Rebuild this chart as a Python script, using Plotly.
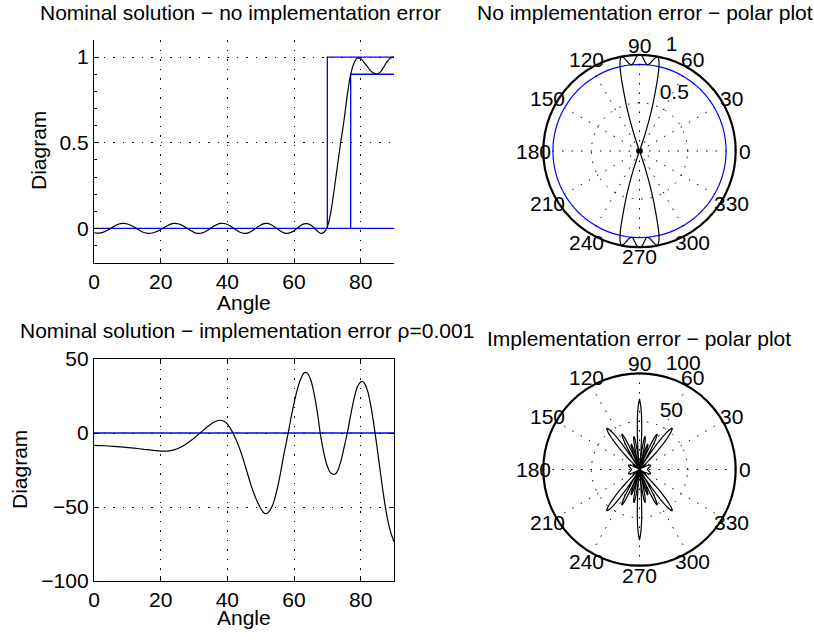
import math
import plotly.graph_objects as go

# ---------------- data ----------------
# nominal diagram (no implementation error), angle in degrees
ANGLE_NOM = list(range(0, 91))
DIAG_NOM = [
    -0.025, -0.027, -0.026, -0.020, -0.011, 0.000, 0.012, 0.022, 0.028, 0.029,
    0.026, 0.019, 0.009, -0.003, -0.015, -0.024, -0.029, -0.028, -0.024, -0.016,
    -0.006, 0.005, 0.016, 0.025, 0.029, 0.028, 0.022, 0.012, 0.000, -0.012,
    -0.023, -0.029, -0.028, -0.022, -0.012, 0.001, 0.014, 0.024, 0.029, 0.029,
    0.023, 0.013, 0.000, -0.013, -0.024, -0.029, -0.027, -0.019, -0.007, 0.007,
    0.020, 0.028, 0.029, 0.023, 0.012, -0.002, -0.016, -0.026, -0.029, -0.024,
    -0.013, 0.002, 0.017, 0.027, 0.028, 0.020, 0.004, -0.015, -0.028, -0.022,
    0.010, 0.090, 0.220, 0.360, 0.500, 0.630, 0.780, 0.900, 0.965, 0.995,
    0.990, 0.970, 0.945, 0.920, 0.905, 0.902, 0.915, 0.945, 0.975, 0.995,
    1.000,
]

# bound lines of the design problem
UPPER_X = [70, 70, 90]
UPPER_Y = [0, 1, 1]
LOWER_X = [77, 77, 90]
LOWER_Y = [0, 0.9, 0.9]
ZERO_X = [0, 90]
ZERO_Y = [0, 0]
RING_LEVEL = 0.9

# nominal solution with implementation error (rho = 0.001)
ANGLE_ERR = [0, 3, 6, 9, 12, 15, 18, 20, 22, 24, 26, 28, 30, 32, 34, 36, 37.8,
             39.5, 41, 42, 43, 44, 45, 46, 47, 48, 49, 50, 51, 51.5, 52, 53, 54,
             55, 56, 57, 58, 59, 60, 61, 62, 63, 63.5, 64, 65, 66, 67, 68, 69,
             70, 71, 72.3, 73, 74, 75, 76, 77, 78, 79, 80, 80.5, 81, 82, 83, 84,
             85, 86, 87, 88, 89, 90]
DIAG_ERR = [-8.4, -8.6, -9.0, -9.5, -10.2, -11.0, -11.8, -12.2, -12.2, -11.4,
            -9.6, -6.8, -3.5, 0.3, 4.2, 7.4, 8.6, 7.2, 2.8, -1.5, -6.5, -12.5,
            -19.5, -27, -34.5, -41, -46.5, -51, -54, -54.5, -54.2, -51.5, -46,
            -37.5, -26.5, -14, -3, 9, 20, 29.5, 36.5, 40.5, 41, 40.5, 36, 27, 14,
            -2, -14, -22.5, -27, -27.8, -26, -19.5, -10, 0, 12, 23, 31, 34.5,
            34.8, 34, 29, 19, 5, -11, -28, -44, -57.5, -67, -73.5]

POLAR_ANGLE_TICKS = [0, 30, 60, 90, 120, 150, 180, 210, 240, 270, 300, 330]
NOM_RMAX = 1
NOM_RTICKS = [0.5, 1]
ERR_RMAX = 100
ERR_RTICKS = [50, 100]

TITLES = [
    "Nominal solution \u2212 no implementation error",
    "No implementation error \u2212 polar plot",
    "Nominal solution \u2212 implementation error \u03c1=0.001",
    "Implementation error \u2212 polar plot",
]

# ---------------- styling / layout ----------------
FONT = "Liberation Sans, Arial, Helvetica, sans-serif"
FS = 21
W, H = 814, 640
BLACK = "#000000"
BLUE = "#0000ff"
DOT = "1.5px,8px"

# pixel boxes
CART_X = (94, 394)
TOP_Y = (40, 262.7)
BOT_Y = (359, 581)
POLAR_CX, POLAR_R = 639.5, 96.2
POLAR_TOP_CY, POLAR_BOT_CY = 151, 469.5


def px(xp):
    return xp / W


def py(yp):
    return 1 - yp / H


def mirrored(ang, val):
    """Full-circle polar view of a diagram symmetric about 90 deg;
    negative values are drawn on the opposite side (as MATLAB polar does)."""
    th = list(ang) + [180 - a for a in reversed(ang)] + [180 + a for a in ang] + [360 - a for a in reversed(ang)]
    v = list(val) + list(reversed(val)) + list(val) + list(reversed(val))
    r = [abs(x) for x in v]
    th = [t + (180 if x < 0 else 0) for t, x in zip(th, v)]
    return th, r


fig = go.Figure()

# ---- top-left cartesian ----
for xs, ys in ((ZERO_X, ZERO_Y), (UPPER_X, UPPER_Y), (LOWER_X, LOWER_Y)):
    fig.add_trace(go.Scatter(x=xs, y=ys, mode="lines", line=dict(color=BLUE, width=1.3),
                             xaxis="x", yaxis="y"))
fig.add_trace(go.Scatter(x=ANGLE_NOM, y=DIAG_NOM, mode="lines",
                         line=dict(color=BLACK, width=1.2, shape="spline"),
                         xaxis="x", yaxis="y"))

# ---- bottom-left cartesian ----
fig.add_trace(go.Scatter(x=ZERO_X, y=ZERO_Y, mode="lines", line=dict(color=BLUE, width=1.3),
                         xaxis="x2", yaxis="y2"))
fig.add_trace(go.Scatter(x=ANGLE_ERR, y=DIAG_ERR, mode="lines",
                         line=dict(color=BLACK, width=1.2, shape="spline"),
                         xaxis="x2", yaxis="y2"))

# ---- top-right polar ----
ring_theta = list(range(0, 361, 3))
fig.add_trace(go.Scatterpolar(theta=ring_theta, r=[RING_LEVEL] * len(ring_theta), mode="lines",
                              line=dict(color=BLUE, width=1.2), subplot="polar"))
th1, r1 = mirrored(ANGLE_NOM, DIAG_NOM)
fig.add_trace(go.Scatterpolar(theta=th1, r=r1, mode="lines",
                              line=dict(color=BLACK, width=1.2, shape="spline"), subplot="polar"))

# ---- bottom-right polar ----
th2, r2 = mirrored(ANGLE_ERR, DIAG_ERR)
fig.add_trace(go.Scatterpolar(theta=th2, r=r2, mode="lines",
                              line=dict(color=BLACK, width=1.2, shape="spline"), subplot="polar2"))

axis_common = dict(
    showline=True, linecolor=BLACK, linewidth=1.3, ticks="inside", ticklen=5,
    tickwidth=1, tickcolor=BLACK, showgrid=True, gridcolor=BLACK, gridwidth=1,
    griddash=DOT, zeroline=False, tickfont=dict(family=FONT, size=FS, color=BLACK),
)


def radial(rmax, rticks):
    return dict(range=[0, rmax], tickmode="array", tickvals=rticks,
                showticklabels=False, ticks="", showline=False,
                showgrid=True, gridcolor=BLACK, gridwidth=1, griddash=DOT)


angular = dict(rotation=0, direction="counterclockwise", tickmode="array",
               tickvals=POLAR_ANGLE_TICKS, showticklabels=False, ticks="",
               showgrid=True, gridcolor=BLACK, gridwidth=1, griddash=DOT,
               showline=True, linecolor=BLACK, linewidth=2.2)


def polar_domain(cy):
    return dict(x=[px(POLAR_CX - POLAR_R), px(POLAR_CX + POLAR_R)],
                y=[py(cy + POLAR_R), py(cy - POLAR_R)])


fig.update_layout(
    width=W, height=H, margin=dict(l=0, r=0, t=0, b=0, autoexpand=False),
    paper_bgcolor="white", plot_bgcolor="white", showlegend=False,
    font=dict(family=FONT, size=FS, color=BLACK),
    xaxis=dict(domain=[px(CART_X[0]), px(CART_X[1])], range=[0, 90], tickvals=[0, 20, 40, 60, 80],
               anchor="y", mirror=False, **axis_common),
    yaxis=dict(domain=[py(TOP_Y[1]), py(TOP_Y[0])], range=[-0.2, 1.1], tickvals=[0, 0.5, 1],
               ticktext=["0", "0.5", "1"], anchor="x", mirror=False,
               minor=dict(dtick=0.1, ticks="inside", ticklen=3, tickcolor=BLACK, showgrid=False),
               **axis_common),
    xaxis2=dict(domain=[px(CART_X[0]), px(CART_X[1])], range=[0, 90], tickvals=[0, 20, 40, 60, 80],
                anchor="y2", mirror="ticks", **axis_common),
    yaxis2=dict(domain=[py(BOT_Y[1]), py(BOT_Y[0])], range=[-100, 50], tickvals=[-100, -50, 0, 50],
                anchor="x2", mirror="ticks", **axis_common),
    polar=dict(domain=polar_domain(POLAR_TOP_CY), bgcolor="white",
               radialaxis=radial(NOM_RMAX, NOM_RTICKS), angularaxis=angular),
    polar2=dict(domain=polar_domain(POLAR_BOT_CY), bgcolor="white",
                radialaxis=radial(ERR_RMAX, ERR_RTICKS), angularaxis=angular),
)

ann = []


def txt(text, x, y, xa="center", ya="middle", angle=0):
    ann.append(dict(text=text, x=px(x), y=py(y), xref="paper", yref="paper",
                    xanchor=xa, yanchor=ya, showarrow=False, textangle=angle,
                    borderpad=0, font=dict(family=FONT, size=FS, color=BLACK)))


title_pos = [(241, 12), (645, 12), (247, 330), (639, 338)]
for t, (x, y) in zip(TITLES, title_pos):
    txt(t, x, y)
for y in (302, 617):
    txt("Angle", 244, y)
txt("Diagram", 38, 151, angle=-90)
txt("Diagram", 19, 470, angle=-90)

# polar tick labels, MATLAB style (angles at 1.1*rmax, radii along 82 deg)
for cy, rmax, rticks in ((POLAR_TOP_CY, NOM_RMAX, NOM_RTICKS), (POLAR_BOT_CY, ERR_RMAX, ERR_RTICKS)):
    for a in POLAR_ANGLE_TICKS:
        rad = math.radians(a)
        txt(str(a), POLAR_CX + 1.1 * POLAR_R * math.cos(rad), cy - 1.1 * POLAR_R * math.sin(rad))
    rinc = rticks[0]
    for t in rticks:
        rr = (t + rinc / 20) / rmax * POLAR_R
        rad = math.radians(82)
        txt("\u00a0\u00a0" + f"{t:g}", POLAR_CX + rr * math.cos(rad), cy - rr * math.sin(rad) + 3,
            xa="left", ya="bottom")

fig.update_layout(annotations=ann)

fig.write_html("out.html")
